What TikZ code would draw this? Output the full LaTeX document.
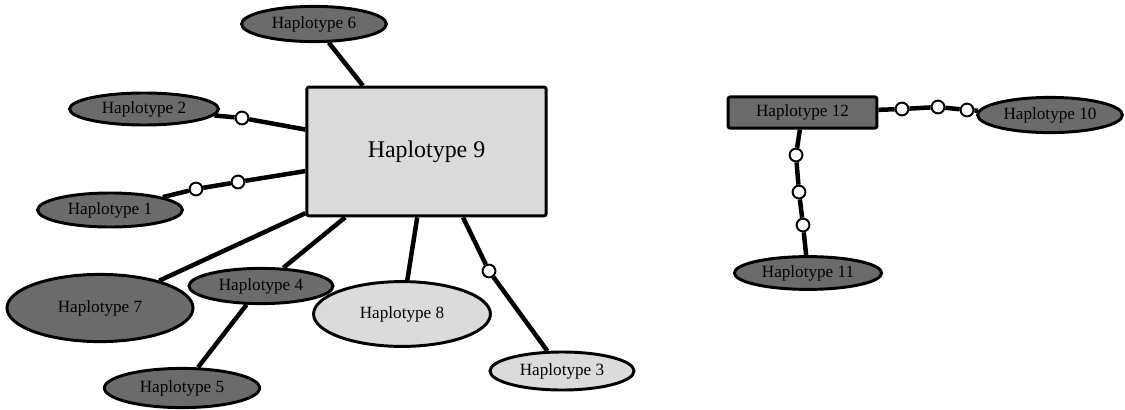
\documentclass[tikz,border=0pt]{standalone}
\usepackage{fontspec}
\setmainfont{Liberation Serif}
\usetikzlibrary{shapes.geometric}
\definecolor{hapdark}{gray}{0.42}
\definecolor{haplight}{gray}{0.86}

\begin{document}
\begin{tikzpicture}[x=0.025cm, y=-0.025cm,
    hap/.style={ellipse, draw=black, line width=2.1pt, inner sep=0pt,
      text=black, font=\fontsize{12.2}{14}\selectfont},
    hapdk/.style={hap, fill=hapdark},
    haplt/.style={hap, fill=haplight},
    hapbox/.style={rectangle, rounded corners=1.5pt, draw=black, line width=2.1pt,
      inner sep=0pt, text=black},
    link/.style={line width=3.2pt},
    mut/.style={circle, draw=black, fill=white, line width=1.4pt, inner sep=0pt,
      minimum size=0.32cm}]
  \useasboundingbox (0,0) rectangle (1125,409);
  % Central haplotype and its neighbours
  \node[hapbox, fill=haplight, minimum width=5.98cm, minimum height=3.22cm,
    font=\fontsize{17}{19}\selectfont] (h9) at (426.5,151.5) {Haplotype 9};
  \node[hapdk, minimum width=3.62cm, minimum height=0.88cm] (h6) at (314,24) {Haplotype 6};
  \node[hapdk, minimum width=3.72cm, minimum height=0.80cm] (h2) at (144,109) {Haplotype 2};
  \node[hapdk, minimum width=3.62cm, minimum height=0.85cm] (h1) at (110,210) {Haplotype 1};
  \node[hapdk, minimum width=4.65cm, minimum height=1.68cm] (h7) at (100,308) {Haplotype 7};
  \node[hapdk, minimum width=3.60cm, minimum height=0.88cm] (h4) at (261,286) {Haplotype 4};
  \node[hapdk, minimum width=3.88cm, minimum height=0.98cm] (h5) at (182,388) {Haplotype 5};
  \node[haplt, minimum width=4.42cm, minimum height=1.62cm] (h8) at (402,314) {Haplotype 8};
  \node[haplt, minimum width=3.60cm, minimum height=0.95cm] (h3) at (562,371) {Haplotype 3};
  % Second network
  \node[hapbox, fill=hapdark, minimum width=3.72cm, minimum height=0.78cm,
    font=\fontsize{12.2}{14}\selectfont] (h12) at (802.5,112.5) {Haplotype 12};
  \node[hapdk, minimum width=3.62cm, minimum height=0.88cm] (h10) at (1050,115) {Haplotype 10};
  \node[hapdk, minimum width=3.68cm, minimum height=0.82cm] (h11) at (808,273) {Haplotype 11};
  % Mutation steps
  \node[mut] (m21) at (242,118) {};
  \node[mut] (m11) at (196,189) {};
  \node[mut] (m12) at (238,182) {};
  \node[mut] (m31) at (489,271) {};
  \node[mut] (m101) at (902,109) {};
  \node[mut] (m102) at (938,107) {};
  \node[mut] (m103) at (967,110) {};
  \node[mut] (m111) at (796,155) {};
  \node[mut] (m112) at (799,192) {};
  \node[mut] (m113) at (803,225) {};
  % Links
  \draw[link] (h6) -- (h9.134);
  \draw[link] (h2) -- (m21) -- (h9);
  \draw[link] (h1) -- (m11) -- (m12) -- (h9);
  \draw[link] (h7) -- (h9.207);
  \draw[link] (h4) -- (h9.219);
  \draw[link] (h8) -- (h9.262);
  \draw[link] (h9.299) -- (m31) -- (h3);
  \draw[link] (h4) -- (h5);
  \draw[link] (h12) -- (m101) -- (m102) -- (m103) -- (h10);
  \draw[link] (h12) -- (m111) -- (m112) -- (m113) -- (h11);
\end{tikzpicture}
\end{document}
